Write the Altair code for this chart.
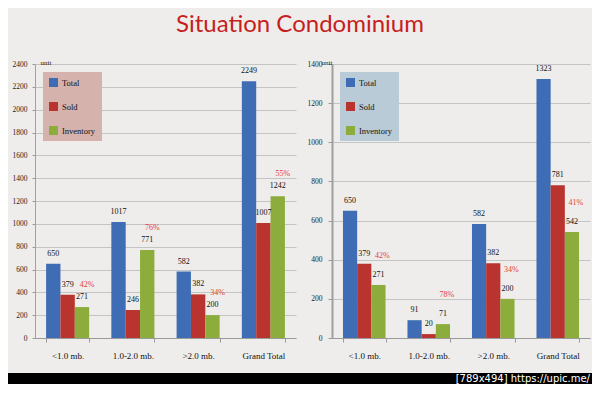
import altair as alt
import pandas as pd

categories = ["<1.0 mb.", "1.0-2.0 mb.", ">2.0 mb.", "Grand Total"]
series = ["Total", "Sold", "Inventory"]

left_total = [650, 1017, 582, 2249]
left_sold = [379, 246, 382, 1007]
left_inventory = [271, 771, 200, 1242]
left_pct = ["42%", "76%", "34%", "55%"]
left_ticks = [0, 200, 400, 600, 800, 1000, 1200, 1400, 1600, 1800, 2000, 2200, 2400]

right_total = [650, 91, 582, 1323]
right_sold = [379, 20, 382, 781]
right_inventory = [271, 71, 200, 542]
right_pct = ["42%", "78%", "34%", "41%"]
right_ticks = [0, 200, 400, 600, 800, 1000, 1200, 1400]

colors = ["#3f6db5", "#b9332f", "#8cad3c"]
title_text = "Situation Condominium"
unit_text = "unit"
watermark = "[789x494] https://upic.me/"

SERIF = "Liberation Serif"
BG = "#eeedeb"


def panel(total, sold, inv, pct, ticks, ymax, legend_fill, pct_dy, pct_dx,
          title_x, dom_w, lab_pad, tick_size, width):
    rows = []
    for i, c in enumerate(categories):
        for s, vals in zip(series, [total, sold, inv]):
            rows.append({"cat": c, "series": s, "value": vals[i]})
    df = pd.DataFrame(rows)
    pdf = pd.DataFrame({"cat": categories, "series": ["Inventory"] * 4,
                        "value": inv, "pct": pct})

    x = alt.X("cat:N", sort=categories,
              scale=alt.Scale(paddingInner=0.34, paddingOuter=0.17),
              axis=alt.Axis(title=None, labelAngle=0, labelFont=SERIF,
                            labelFontSize=9, labelColor="#111",
                            labelPadding=9, tickBand="extent", tickSize=4,
                            tickColor="#9a9a9a", domainColor="#9a9a9a",
                            grid=False, minExtent=35, maxExtent=35))
    y = alt.Y("value:Q", scale=alt.Scale(domain=[0, ymax], nice=False),
              axis=alt.Axis(title=unit_text, titleAngle=0, titleX=title_x,
                            titleY=1, titleAlign="left",
                            titleBaseline="bottom", titleFont=SERIF,
                            titleFontSize=7, titleFontWeight="normal",
                            titleColor="#222", format="d",
                            values=ticks, labelFont=SERIF, labelFontSize=7.5,
                            labelColor="#222", labelPadding=lab_pad,
                            tickSize=tick_size, tickColor="#9a9a9a",
                            domainColor="#a0a0a0", domainWidth=dom_w,
                            gridColor="#c4c4c4", gridWidth=1,
                            minExtent=27, maxExtent=27))
    xo = alt.XOffset("series:N", sort=series,
                     scale=alt.Scale(paddingInner=0, paddingOuter=0))
    color = alt.Color("series:N", sort=series,
                      scale=alt.Scale(domain=series, range=colors),
                      legend=alt.Legend(title=None, orient="top-left",
                                        offset=8, fillColor=legend_fill,
                                        padding=6, symbolType="square",
                                        symbolSize=81, symbolStrokeWidth=0,
                                        symbolOpacity=1,
                                        labelFont=SERIF, labelFontSize=8.5,
                                        labelColor="#111", rowPadding=15,
                                        labelOffset=4))

    bars = alt.Chart(df).mark_bar().encode(x=x, xOffset=xo, y=y, color=color)
    labels = alt.Chart(df).mark_text(dy=-10, font=SERIF, fontSize=8,
                                     color="#111").encode(
        x=x, xOffset=xo, y=y, text="value:Q")
    pcts = alt.Chart(pdf).mark_text(dy=pct_dy, dx=pct_dx, font=SERIF,
                                    fontSize=8, color="#e2403a").encode(
        x=x, xOffset=xo, y=y, text="pct:N")
    return alt.layer(bars, labels, pcts).properties(
        width=width, height=274,
        view=alt.ViewBackground(fill=BG, strokeWidth=0))


left = panel(left_total, left_sold, left_inventory, left_pct, left_ticks,
             2400, "#d6b2ad", -22, 5, 5, 1, 5, 3, 261)
right = panel(right_total, right_sold, right_inventory, right_pct,
              right_ticks, 1400, "#b9cbd7", -29, 4, -11, 2, 6, 4, 258)

top = alt.hconcat(left, right, spacing=9).resolve_scale(
    color="independent", y="independent", x="independent",
    xOffset="independent").resolve_legend(color="independent")

wm_df = pd.DataFrame({"t": [watermark]})
band = alt.Chart(wm_df).mark_rect(color="black").encode(
    x=alt.value(-27), x2=alt.value(557), y=alt.value(0), y2=alt.value(11))
wm_text = alt.Chart(wm_df).mark_text(
    align="right", baseline="top", color="white", font="DejaVu Sans",
    fontSize=10).encode(x=alt.value(555), y=alt.value(1), text="t:N")
wm = alt.layer(band, wm_text).properties(
    width=557, height=11, view=alt.ViewBackground(fill=BG, strokeWidth=0))

chart = alt.vconcat(top, wm, spacing=0).properties(
    title=alt.TitleParams(title_text, font="Lato", fontSize=24,
                          fontWeight="normal", color="#c81e1e",
                          anchor="middle", dx=0, offset=21),
    padding={"top": 5, "left": 0, "right": 0, "bottom": 0}, background=BG,
).configure_view(strokeWidth=0)

chart.save("out.html", embed_options={"renderer": "svg", "actions": False})
